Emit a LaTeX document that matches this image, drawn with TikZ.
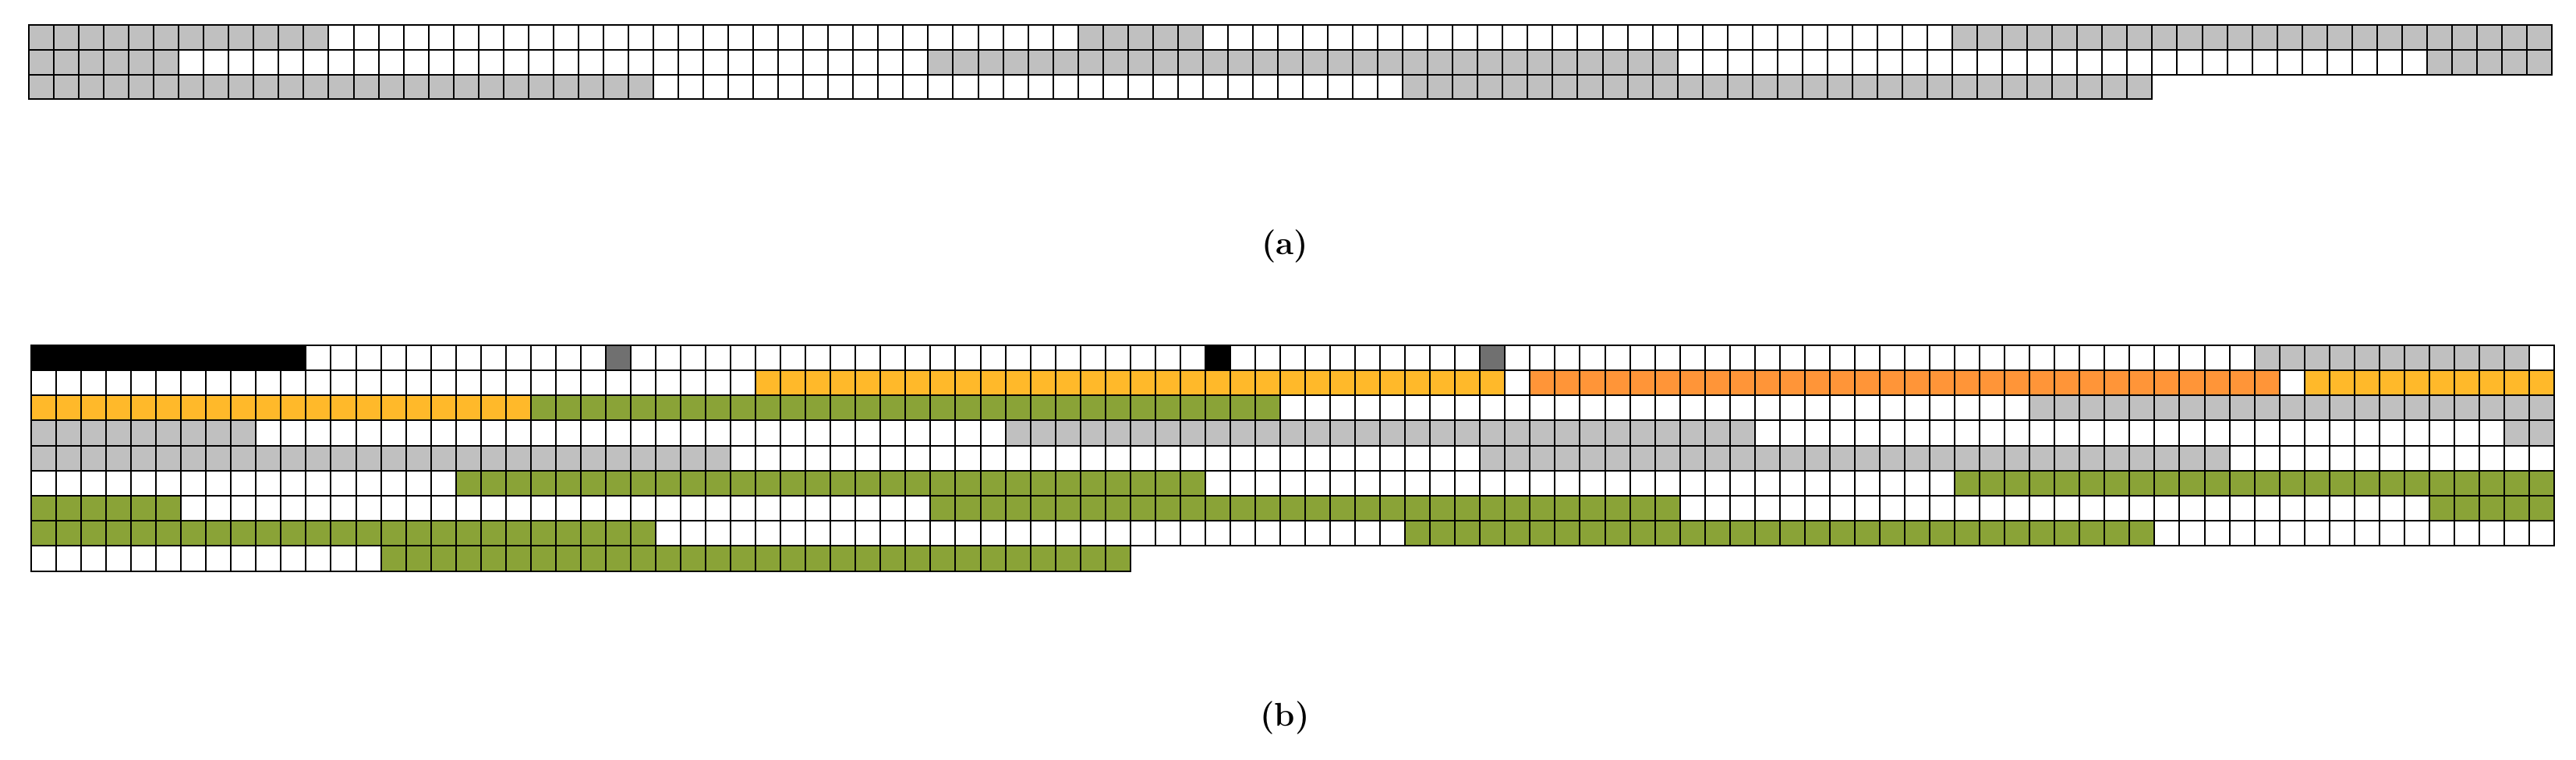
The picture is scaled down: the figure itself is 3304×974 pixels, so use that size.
\documentclass[tikz,border=0pt]{standalone}
\begin{document}
\begin{tikzpicture}[x=0.1mm,y=-0.1mm,
  cell/.style={draw=black,line width=0.2mm},
  lbl/.style={font=\fontsize{12}{14}\selectfont\bfseries}]
\definecolor{cgray}{HTML}{C0C0C0}
\definecolor{cdark}{HTML}{707070}
\definecolor{cyel}{HTML}{FFB92A}
\definecolor{corg}{HTML}{FF9538}
\definecolor{cgrn}{HTML}{8AA337}
\useasboundingbox (0,0) rectangle (3304,974);
% #1 x0, #2 top, #3 first, #4 last, #5 color, #6 height
\newcommand\cellseg[6]{\foreach \i in {#3,...,#4}{\draw[cell,fill=#5] ({#1+\i*32.04},#2) rectangle ++(32.04,#6);}}
% ---- (a)
\def\ax{37}
\cellseg{\ax}{32}{0}{100}{white}{31.8}
\cellseg{\ax}{32}{0}{11}{cgray}{31.8}
\cellseg{\ax}{32}{42}{46}{cgray}{31.8}
\cellseg{\ax}{32}{77}{100}{cgray}{31.8}
\cellseg{\ax}{63.8}{0}{100}{white}{31.8}
\cellseg{\ax}{63.8}{0}{5}{cgray}{31.8}
\cellseg{\ax}{63.8}{36}{65}{cgray}{31.8}
\cellseg{\ax}{63.8}{96}{100}{cgray}{31.8}
\cellseg{\ax}{95.6}{0}{84}{white}{31.8}
\cellseg{\ax}{95.6}{0}{24}{cgray}{31.8}
\cellseg{\ax}{95.6}{55}{84}{cgray}{31.8}
\node[lbl] (la) at (1648,316) {(a)};
% ---- (b)
\def\bx{40}
\def\h{32.2}
% row 1
\cellseg{\bx}{442.7}{0}{100}{white}{\h}
\cellseg{\bx}{442.7}{0}{10}{black}{\h}
\cellseg{\bx}{442.7}{23}{23}{cdark}{\h}
\cellseg{\bx}{442.7}{47}{47}{black}{\h}
\cellseg{\bx}{442.7}{58}{58}{cdark}{\h}
\cellseg{\bx}{442.7}{89}{99}{cgray}{\h}
% row 2
\cellseg{\bx}{474.9}{0}{100}{white}{\h}
\cellseg{\bx}{474.9}{29}{58}{cyel}{\h}
\cellseg{\bx}{474.9}{60}{89}{corg}{\h}
\cellseg{\bx}{474.9}{91}{100}{cyel}{\h}
% row 3
\cellseg{\bx}{507.1}{0}{100}{white}{\h}
\cellseg{\bx}{507.1}{0}{19}{cyel}{\h}
\cellseg{\bx}{507.1}{20}{49}{cgrn}{\h}
\cellseg{\bx}{507.1}{80}{100}{cgray}{\h}
% row 4
\cellseg{\bx}{539.3}{0}{100}{white}{\h}
\cellseg{\bx}{539.3}{0}{8}{cgray}{\h}
\cellseg{\bx}{539.3}{39}{68}{cgray}{\h}
\cellseg{\bx}{539.3}{99}{100}{cgray}{\h}
% row 5
\cellseg{\bx}{571.5}{0}{100}{white}{\h}
\cellseg{\bx}{571.5}{0}{27}{cgray}{\h}
\cellseg{\bx}{571.5}{58}{87}{cgray}{\h}
% row 6
\cellseg{\bx}{603.7}{0}{100}{white}{\h}
\cellseg{\bx}{603.7}{17}{46}{cgrn}{\h}
\cellseg{\bx}{603.7}{77}{100}{cgrn}{\h}
% row 7
\cellseg{\bx}{635.9}{0}{100}{white}{\h}
\cellseg{\bx}{635.9}{0}{5}{cgrn}{\h}
\cellseg{\bx}{635.9}{36}{65}{cgrn}{\h}
\cellseg{\bx}{635.9}{96}{100}{cgrn}{\h}
% row 8
\cellseg{\bx}{668.1}{0}{100}{white}{\h}
\cellseg{\bx}{668.1}{0}{24}{cgrn}{\h}
\cellseg{\bx}{668.1}{55}{84}{cgrn}{\h}
% row 9
\cellseg{\bx}{700.3}{0}{43}{white}{\h}
\cellseg{\bx}{700.3}{14}{43}{cgrn}{\h}
\node[lbl] (lb) at (1648,921) {(b)};
\end{tikzpicture}
\end{document}
